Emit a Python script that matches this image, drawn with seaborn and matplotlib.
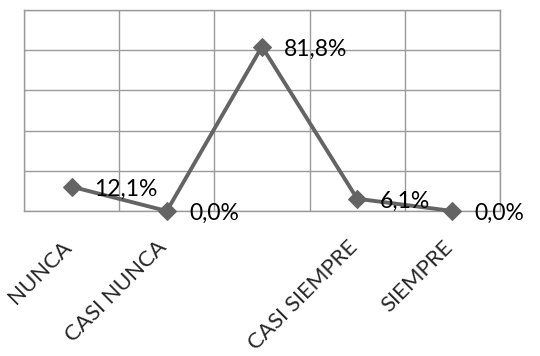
import pandas as pd
import seaborn as sns
import matplotlib.pyplot as plt
import matplotlib.transforms as mtransforms

categorias = ["NUNCA", "CASI NUNCA", "A VECES", "CASI SIEMPRE", "SIEMPRE"]
etiquetas_x = ["NUNCA", "CASI NUNCA", "", "CASI SIEMPRE", "SIEMPRE"]
porcentajes = [12.1, 0.0, 81.8, 6.1, 0.0]

df = pd.DataFrame({"pos": range(len(categorias)), "Porcentaje": porcentajes})

sns.set_style("white")
plt.rcParams['font.family'] = ['Lato', 'DejaVu Sans']

fig = plt.figure(figsize=(5.4, 3.56), dpi=100)
ax = fig.add_axes([0.0444, 0.4073, 0.8815, 0.5646])

sns.lineplot(data=df, x="pos", y="Porcentaje", ax=ax, color="#646464", linewidth=2.8,
             marker="D", markersize=9.5, markeredgecolor="#646464", clip_on=False, zorder=3)

ax.set_xlim(-0.5, len(categorias) - 0.5)
ax.set_ylim(0, 100)
ax.set_xticks([i - 0.5 for i in range(len(categorias) + 1)], minor=False)
ax.set_xticklabels([])
ax.set_xticks(range(len(categorias)), minor=True)
ax.set_xticklabels(etiquetas_x, minor=True, rotation=45, ha="right", rotation_mode="anchor",
                   fontsize=16)
ax.set_yticks(range(0, 101, 20))
ax.set_yticklabels([])
ax.tick_params(axis="both", which="both", length=0)
ax.tick_params(axis="x", which="minor", pad=19)
ax.grid(True, which="major", color="#9a9a9a", linewidth=1)
for s in ax.spines.values():
    s.set_color("#9a9a9a")
    s.set_linewidth(1)
ax.set_xlabel("")
ax.set_ylabel("")

# mover las etiquetas un poco a la izquierda
desplazamiento = mtransforms.ScaledTranslation(-10 / 100, 0, fig.dpi_scale_trans)
for lbl in ax.get_xticklabels(minor=True):
    lbl.set_transform(lbl.get_transform() + desplazamiento)

for i, v in enumerate(porcentajes):
    ax.annotate(f"{v:.1f}%".replace(".", ","), (i, v), xytext=(16, -2), textcoords="offset points",
                ha="left", va="center", fontsize=16.5, color="black", annotation_clip=False)

plt.savefig("out.png", dpi=100)
